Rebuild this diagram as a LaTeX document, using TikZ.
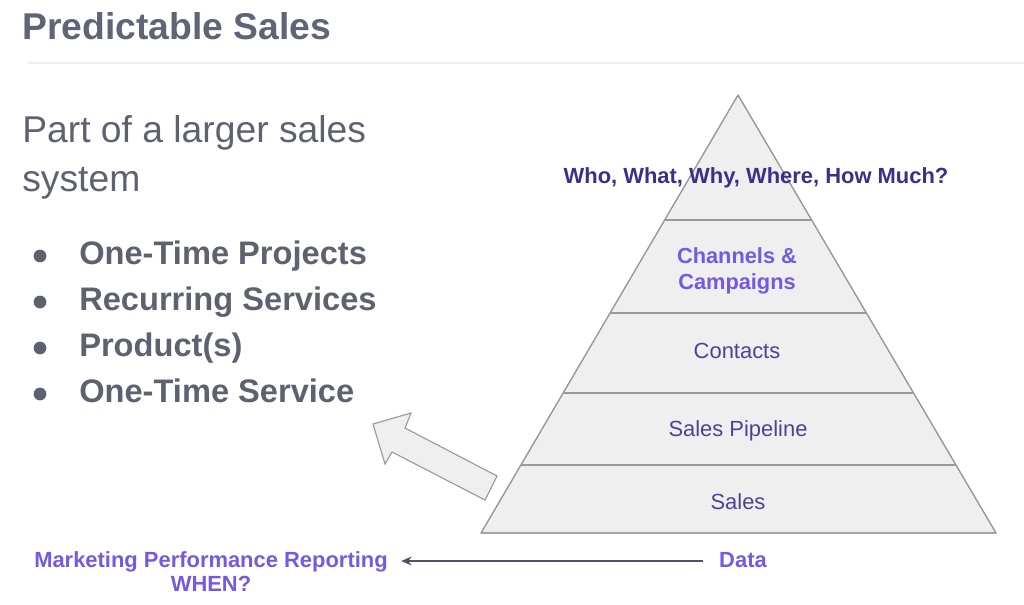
\documentclass[tikz,border=0pt]{standalone}
\usepackage{fontspec}
\setmainfont{Liberation Sans}
\usepackage{tikz}
\usetikzlibrary{
  arrows.meta,
  positioning,
  calc
}
\definecolor{psTitle}{HTML}{5F6577}
\definecolor{psText}{HTML}{5E6270}
\definecolor{psRule}{HTML}{EEEFF1}
\definecolor{psFill}{HTML}{EFEFEF}
\definecolor{psEdge}{HTML}{9A9A9A}
\definecolor{psDeep}{HTML}{3D2E8C}
\definecolor{psViolet}{HTML}{7659E2}
\definecolor{psLevel}{HTML}{4D4294}
\definecolor{psArrow}{HTML}{4C5262}
\tikzset{
  titletxt/.style={font=\fontsize{26.5}{32}\selectfont\bfseries, text=psTitle, inner sep=0pt, anchor=base west},
  bigtxt/.style={font=\fontsize{26.5}{32}\selectfont, text=psText, inner sep=0pt, anchor=base west},
  itemtxt/.style={font=\fontsize{23.2}{28}\selectfont\bfseries, text=psText, inner sep=0pt, anchor=base west},
  dot/.style={circle, fill=psText, inner sep=0pt, minimum size=0.32cm},
  pyramid/.style={fill=psFill, draw=psEdge, line width=0.8pt, line join=round},
  layerline/.style={draw=psEdge, line width=0.8pt},
  leveltxt/.style={font=\fontsize{15.6}{19}\selectfont, text=psLevel, inner sep=0pt, align=center},
  asktxt/.style={font=\fontsize{15.6}{19}\selectfont\bfseries, text=psDeep, inner sep=0pt},
  chantxt/.style={font=\fontsize{15.5}{18.5}\selectfont\bfseries, text=psViolet, inner sep=0pt, align=center},
  reporttxt/.style={font=\fontsize{15.6}{18}\selectfont\bfseries, text=psViolet, inner sep=0pt,
    text height=0.42cm, text depth=0.1cm},
  blockarrow/.style={fill=psFill, draw=psEdge, line width=0.8pt, line join=miter},
  dataflow/.style={-{Stealth[length=2.6mm, width=2.2mm]}, draw=psArrow, line width=0.8pt}
}
\begin{document}
\begin{tikzpicture}[x=0.025cm, y=-0.025cm]
  \useasboundingbox (0,0) rectangle (1024,604);
  % heading
  \node[titletxt] (title) at (22,40) {Predictable Sales};
  \draw[psRule, line width=1.2pt] (28,63) -- (1024,63);
  % left column
  \node[bigtxt] (part) at (22,142) {Part of a larger sales};
  \node[bigtxt] (system) at (22,191) {system};
  \node[itemtxt] (one) at (79,264) {One-Time Projects};
  \node[itemtxt] (rec) at (79,310) {Recurring Services};
  \node[itemtxt] (prod) at (79,356) {Product(s)};
  \node[itemtxt] (serv) at (79,402) {One-Time Service};
  \foreach \n in {one,rec,prod,serv}
    \node[dot] at ($(\n.base west)+(-39,-8)$) {};
  % pyramid
  \coordinate (apex) at (738,95);
  \coordinate (bl) at (481,533);
  \coordinate (br) at (996,533);
  \fill[pyramid] (apex) -- (br) -- (bl) -- cycle;
  \foreach \t in {0.2854,0.4977,0.6804,0.8447}
    \draw[layerline] ($(apex)!\t!(bl)$) -- ($(apex)!\t!(br)$);
  \draw[pyramid, fill=none] (apex) -- (br) -- (bl) -- cycle;
  \node[asktxt] (ask) at (756,178) {Who, What, Why, Where, How Much?};
  \node[chantxt] (chan) at (737,271) {Channels \&\\Campaigns};
  \node[leveltxt] (contacts) at (737,351) {Contacts};
  \node[leveltxt] (pipe) at (738,431) {Sales Pipeline};
  \node[leveltxt] (sales) at (738,502) {Sales};
  % block arrow back to the list
  \filldraw[blockarrow] (373,424) -- (411,413) -- (405,428) -- (497,476)
    -- (485,500) -- (392,452) -- (385,464) -- cycle;
  % reporting
  \node[reporttxt] (report) at (211,561) {Marketing Performance Reporting};
  \node[reporttxt, below=0.08cm of report] (when) {WHEN?};
  \node[reporttxt] (data) at (743,561) {Data};
  \draw[dataflow, shorten <=0.4cm, shorten >=0.33cm] (data.west) -- (report.east);
\end{tikzpicture}
\end{document}
